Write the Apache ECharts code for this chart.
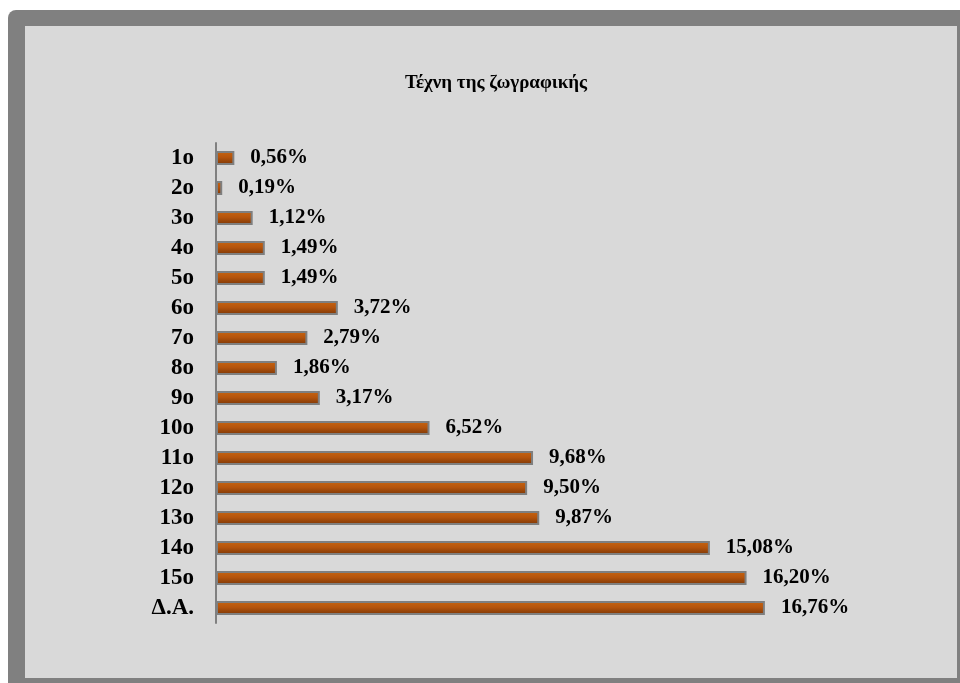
<!DOCTYPE html>
<html><head><meta charset="utf-8">
<script src="https://cdn.jsdelivr.net/npm/echarts@6/dist/echarts.min.js"></script>
<style>html,body{margin:0;padding:0;background:#fff}#c{width:960px;height:683px}</style>
</head><body><div id="c"></div>
<script>
const title = 'Τέχνη της ζωγραφικής';
const categories = ['1ο','2ο','3ο','4ο','5ο','6ο','7ο','8ο','9ο','10ο','11ο','12ο','13ο','14ο','15ο','Δ.Α.'];
const values = [0.56,0.19,1.12,1.49,1.49,3.72,2.79,1.86,3.17,6.52,9.68,9.50,9.87,15.08,16.20,16.76];

const chart = echarts.init(document.getElementById('c'), null, {renderer:'canvas'});
const font = "'Liberation Serif', 'Times New Roman', serif";
chart.setOption({
  animation:false,
  graphic:[
    {type:'rect', z:-10, shape:{x:8,y:10,width:952,height:673,r:[8,0,0,0]}, style:{fill:'#808080'}},
    {type:'rect', z:-9, shape:{x:25,y:26,width:932,height:652}, style:{fill:'#d9d9d9'}}
  ],
  title:{text:title, left:400, top:69, textStyle:{fontFamily:font, fontWeight:'bold', fontSize:19, color:'#000'}},
  grid:{left:216, top:143, width:655, height:480, containLabel:false},
  xAxis:{type:'value', min:0, max:20, show:false},
  yAxis:{type:'category', data:categories, inverse:true,
    axisLine:{show:true, lineStyle:{color:'#808080', width:2}},
    axisTick:{show:false},
    axisLabel:{fontFamily:font, fontWeight:'bold', fontSize:23, color:'#000', margin:22}},
  series:[{type:'bar', data:values, barWidth:14,
    itemStyle:{
      color:new echarts.graphic.LinearGradient(0,0,0,1,[
        {offset:0,color:'#c8650f'},{offset:0.45,color:'#b5540c'},{offset:1,color:'#7a3606'}]),
      borderColor:'#7f7f7f', borderWidth:2},
    label:{show:true, position:'right', distance:16, fontFamily:font, fontWeight:'bold', fontSize:21, color:'#000',
      formatter:p=>p.value.toFixed(2).replace('.',',')+'%'}
  }]
});
</script></body></html>
